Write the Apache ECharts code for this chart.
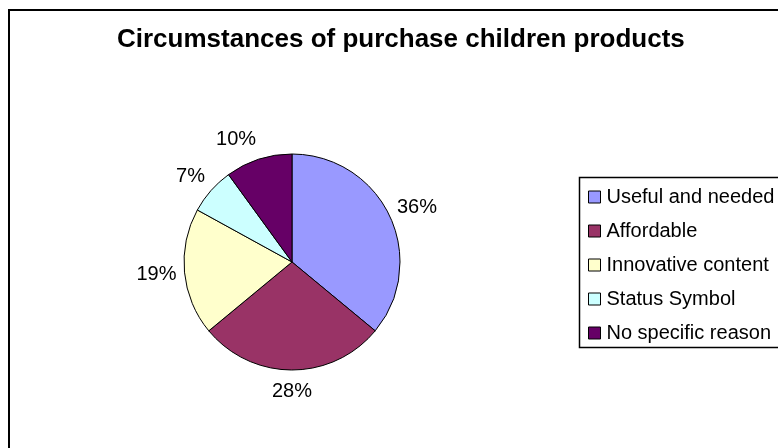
<!DOCTYPE html>
<html>
<head>
<meta charset="utf-8">
<script src="https://cdn.jsdelivr.net/npm/echarts@6/dist/echarts.min.js"></script>
<style>
html,body{margin:0;padding:0;background:#fff;}
#main{width:778px;height:448px;}
</style>
</head>
<body>
<div id="main"></div>
<script>
const titleText = 'Circumstances of purchase children products';
const categories = ['Useful and needed', 'Affordable', 'Innovative content', 'Status Symbol', 'No specific reason'];
const values = [36, 28, 19, 7, 10];
const colors = ['#9999FF', '#993366', '#FFFFCC', '#CCFFFF', '#660066'];

const FONT = 'Liberation Sans, Arial, sans-serif';
const CX = 292, CY = 262, R = 108;
const GAP_X = 8, GAP_Y = 11, HALF_H = 10;
const LEG_X = 579, LEG_Y = 177, LEG_H = 170;

const chart = echarts.init(document.getElementById('main'), null, {renderer: 'canvas'});

function midDir(idx) {
  const total = values.reduce((a, b) => a + b, 0);
  let acc = 0;
  for (let i = 0; i < idx; i++) acc += values[i];
  const mid = (acc + values[idx] / 2) / total * 2 * Math.PI;
  return [Math.sin(mid), -Math.cos(mid)];
}

const option = {
  backgroundColor: '#ffffff',
  animation: false,
  title: {
    text: titleText,
    left: 117,
    top: 27,
    padding: 0,
    textStyle: {fontFamily: FONT, fontSize: 26, fontWeight: 'bold', color: '#000'}
  },
  legend: {
    orient: 'vertical',
    left: LEG_X,
    top: LEG_Y,
    padding: [10, 10, 5, 9],
    itemGap: 14,
    itemWidth: 12,
    itemHeight: 12,
    icon: 'rect',
    borderWidth: 0,
    selectedMode: false,
    itemStyle: {borderColor: '#000', borderWidth: 1},
    textStyle: {fontFamily: FONT, fontSize: 20, color: '#000', padding: [0, 0, 0, 1]},
    data: categories
  },
  graphic: [{
    type: 'rect',
    silent: true,
    z: -1,
    shape: {x: 9, y: 10, width: 820, height: 480},
    style: {fill: 'none', stroke: '#000', lineWidth: 2}
  }, {
    type: 'rect',
    silent: true,
    z: -1,
    shape: {x: LEG_X + 0.5, y: LEG_Y + 0.5, width: 260, height: LEG_H},
    style: {fill: 'none', stroke: '#000', lineWidth: 1.5}
  }],
  series: [{
    type: 'pie',
    center: [CX, CY],
    radius: R,
    startAngle: 90,
    clockwise: true,
    avoidLabelOverlap: false,
    data: categories.map((c, i) => ({name: c, value: values[i], itemStyle: {color: colors[i]}})),
    itemStyle: {borderColor: '#000', borderWidth: 1},
    label: {
      show: true,
      position: 'outside',
      formatter: p => p.value + '%',
      fontFamily: FONT,
      fontSize: 20,
      color: '#000'
    },
    labelLine: {show: true, length: 8, length2: 4, lineStyle: {opacity: 0, width: 0}},
    emphasis: {disabled: true},
    labelLayout: function (p) {
      let ex, ey, dx, dy;
      const pts = p.labelLinePoints;
      if (pts && pts[0]) {
        ex = pts[0][0]; ey = pts[0][1];
        dx = ex - CX; dy = ey - CY;
        const l = Math.sqrt(dx * dx + dy * dy) || 1;
        dx /= l; dy /= l;
      } else {
        const d = midDir(p.dataIndex);
        dx = d[0]; dy = d[1];
        ex = CX + R * dx; ey = CY + R * dy;
      }
      const align = dx > 0.2 ? 'left' : (dx < -0.2 ? 'right' : 'center');
      return {
        x: ex + dx * GAP_X,
        y: ey + dy * (GAP_Y + HALF_H),
        align: align,
        verticalAlign: 'middle'
      };
    }
  }]
};
chart.setOption(option);
</script>
</body>
</html>
